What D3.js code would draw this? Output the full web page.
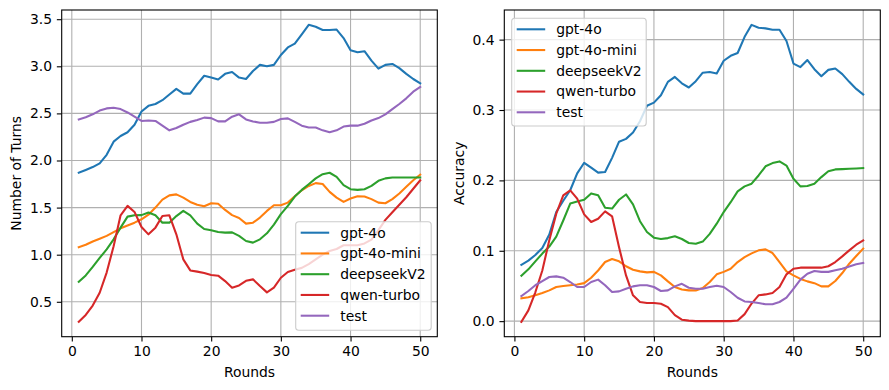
<!DOCTYPE html>
<html>
<head>
<meta charset="utf-8" />
<script src="https://d3js.org/d3.v7.min.js"></script>
<style>
	body { margin: 0; background: white; }
	svg { display: block; font-family: "DejaVu Sans", sans-serif; }
</style>
</head>
<body>
<svg id="chart" width="889" height="390"></svg>
<script>
	var rounds = d3.range(1, 51)
	var seriesNames = ["gpt-4o", "gpt-4o-mini", "deepseekV2", "qwen-turbo", "test"]
	var colors = ["#1f77b4", "#ff7f0e", "#2ca02c", "#d62728", "#9467bd"]

	// left panel: number of turns
	var turnsGpt4o = [1.87, 1.90, 1.93, 1.97, 2.06, 2.20, 2.26, 2.30, 2.38, 2.52,
		2.58, 2.60, 2.64, 2.70, 2.76, 2.71, 2.71, 2.81, 2.90, 2.88,
		2.86, 2.92, 2.94, 2.88, 2.865, 2.95, 3.015, 3.0, 3.015, 3.12,
		3.20, 3.24, 3.34, 3.44, 3.42, 3.386, 3.386, 3.39, 3.30, 3.17,
		3.15, 3.16, 3.06, 2.975, 3.015, 3.025, 2.98, 2.92, 2.865, 2.82]
	var turnsMini = [1.08, 1.105, 1.14, 1.17, 1.20, 1.24, 1.28, 1.31, 1.34, 1.376,
		1.425, 1.50, 1.585, 1.63, 1.64, 1.606, 1.56, 1.53, 1.514, 1.546,
		1.54, 1.475, 1.42, 1.39, 1.33, 1.34, 1.394, 1.465, 1.525, 1.525,
		1.553, 1.62, 1.684, 1.73, 1.76, 1.75, 1.667, 1.606, 1.56, 1.596,
		1.62, 1.617, 1.59, 1.553, 1.546, 1.59, 1.65, 1.72, 1.79, 1.85]
	var turnsDeepseek = [0.713, 0.78, 0.87, 0.965, 1.057, 1.163, 1.287, 1.404, 1.418, 1.42,
		1.447, 1.418, 1.34, 1.34, 1.41, 1.465, 1.418, 1.33, 1.273, 1.26,
		1.24, 1.234, 1.237, 1.20, 1.145, 1.128, 1.163, 1.227, 1.32, 1.43,
		1.518, 1.617, 1.688, 1.748, 1.81, 1.855, 1.87, 1.826, 1.738, 1.695,
		1.688, 1.695, 1.73, 1.784, 1.81, 1.82, 1.82, 1.82, 1.82, 1.82]
	var turnsQwen = [0.287, 0.36, 0.46, 0.596, 0.81, 1.09, 1.418, 1.518, 1.454, 1.294,
		1.216, 1.287, 1.41, 1.418, 1.216, 0.95, 0.833, 0.82, 0.805, 0.784,
		0.777, 0.72, 0.65, 0.674, 0.723, 0.738, 0.667, 0.60, 0.65, 0.755,
		0.816, 0.84, 0.86, 0.90, 0.95, 1.0, 1.04, 1.06, 1.10, 1.10,
		1.10, 1.12, 1.16, 1.26, 1.37, 1.45, 1.53, 1.61, 1.70, 1.79]
	var turnsTest = [2.436, 2.46, 2.49, 2.53, 2.553, 2.56, 2.546, 2.51, 2.465, 2.42,
		2.425, 2.42, 2.37, 2.32, 2.345, 2.38, 2.41, 2.43, 2.455, 2.45,
		2.415, 2.415, 2.465, 2.49, 2.436, 2.415, 2.40, 2.40, 2.41, 2.44,
		2.447, 2.41, 2.37, 2.35, 2.35, 2.32, 2.30, 2.32, 2.36, 2.37,
		2.37, 2.39, 2.425, 2.45, 2.49, 2.546, 2.60, 2.66, 2.73, 2.78]

	// right panel: accuracy
	var accGpt4o = [0.080, 0.086, 0.094, 0.104, 0.123, 0.155, 0.171, 0.186, 0.21, 0.225,
		0.218, 0.211, 0.212, 0.232, 0.255, 0.259, 0.268, 0.284, 0.306, 0.3105,
		0.321, 0.34, 0.347, 0.338, 0.332, 0.341, 0.353, 0.354, 0.352, 0.37,
		0.377, 0.381, 0.404, 0.421, 0.417, 0.416, 0.414, 0.414, 0.398, 0.366,
		0.361, 0.371, 0.358, 0.348, 0.357, 0.359, 0.351, 0.34, 0.33, 0.322]
	var accMini = [0.0324, 0.034, 0.0367, 0.04, 0.0437, 0.0485, 0.05, 0.051, 0.052, 0.054,
		0.0617, 0.072, 0.084, 0.0883, 0.085, 0.078, 0.073, 0.0707, 0.0693, 0.07,
		0.065, 0.0565, 0.0485, 0.045, 0.0437, 0.0437, 0.047, 0.0556, 0.0665, 0.07,
		0.0745, 0.084, 0.091, 0.0963, 0.1006, 0.102, 0.0968, 0.084, 0.0707, 0.065,
		0.060, 0.0565, 0.054, 0.0494, 0.0494, 0.057, 0.0684, 0.0816, 0.0925, 0.103]
	var accDeepseek = [0.0646, 0.0736, 0.085, 0.096, 0.106, 0.12, 0.143, 0.167, 0.17, 0.1725,
		0.1815, 0.179, 0.161, 0.160, 0.1725, 0.180, 0.166, 0.142, 0.1266, 0.1186,
		0.1167, 0.118, 0.1205, 0.1167, 0.111, 0.110, 0.113, 0.124, 0.1385, 0.155,
		0.169, 0.1844, 0.1915, 0.1953, 0.207, 0.22, 0.2246, 0.227, 0.221, 0.2024,
		0.1915, 0.192, 0.1953, 0.2047, 0.213, 0.2156, 0.216, 0.2166, 0.217, 0.2175]
	var accQwen = [-0.001, 0.0153, 0.041, 0.072, 0.115, 0.1527, 0.1787, 0.1858, 0.174, 0.1517,
		0.1408, 0.1455, 0.156, 0.149, 0.105, 0.065, 0.0367, 0.0272, 0.0258, 0.0258,
		0.0248, 0.020, 0.0085, 0.002, 0.0007, 0, 0, 0, 0, 0,
		0, 0.001, 0.01, 0.025, 0.0367, 0.038, 0.04, 0.0485, 0.0665, 0.0745,
		0.076, 0.076, 0.076, 0.076, 0.078, 0.084, 0.092, 0.1006, 0.1086, 0.1148]
	var accTest = [0.0357, 0.0428, 0.051, 0.057, 0.0627, 0.0636, 0.0617, 0.0556, 0.0485, 0.0485,
		0.0556, 0.059, 0.051, 0.0414, 0.0423, 0.046, 0.0494, 0.051, 0.051, 0.0485,
		0.0428, 0.0437, 0.0494, 0.053, 0.0475, 0.046, 0.046, 0.0485, 0.0504, 0.0485,
		0.0414, 0.0333, 0.028, 0.0272, 0.0258, 0.024, 0.024, 0.0272, 0.0333, 0.046,
		0.059, 0.0674, 0.0712, 0.07, 0.07, 0.0722, 0.0745, 0.0778, 0.0807, 0.0826]

	var turnsTicks = [0.5, 1.0, 1.5, 2.0, 2.5, 3.0, 3.5]
	var accTicks = [0.0, 0.1, 0.2, 0.3, 0.4]
	var roundTicks = [0, 10, 20, 30, 40, 50]

	var svg = d3.select("#chart")
	var fontSize = 13.9

	// matplotlib style 5% margins around the data
	function padded(ext) {
		var m = (ext[1] - ext[0]) * 0.05
		return [ext[0] - m, ext[1] + m]
	}

	function panel(opts) {
		var box = opts.box
		var all = [].concat.apply([], opts.series)
		var x = d3.scaleLinear().domain(padded(d3.extent(rounds))).range([box.left, box.right])
		var y = d3.scaleLinear().domain(padded(d3.extent(all))).range([box.bottom, box.top])

		var g = svg.append("g")

		// grid
		g.append("g").selectAll("line").data(roundTicks).enter().append("line")
			.attr("x1", d => x(d)).attr("x2", d => x(d))
			.attr("y1", box.top).attr("y2", box.bottom)
			.attr("stroke", "#b0b0b0").attr("stroke-width", 1.1)
		g.append("g").selectAll("line").data(opts.yTicks).enter().append("line")
			.attr("y1", d => y(d)).attr("y2", d => y(d))
			.attr("x1", box.left).attr("x2", box.right)
			.attr("stroke", "#b0b0b0").attr("stroke-width", 1.1)

		// lines
		var line = d3.line().x((d, i) => x(rounds[i])).y(d => y(d))
		opts.series.forEach(function (s, i) {
			g.append("path").attr("d", line(s))
				.attr("fill", "none").attr("stroke", colors[i])
				.attr("stroke-width", 2.08).attr("stroke-linejoin", "round")
				.attr("stroke-linecap", "square")
		})

		// axes
		var xAxis = g.append("g").attr("transform", `translate(0,${box.bottom})`)
			.call(d3.axisBottom(x).tickValues(roundTicks).tickFormat(d3.format("d")).tickSize(4.86).tickPadding(4.86))
		var yAxis = g.append("g").attr("transform", `translate(${box.left},0)`)
			.call(d3.axisLeft(y).tickValues(opts.yTicks).tickFormat(d3.format(opts.fmt)).tickSize(4.86).tickPadding(4.86))
		;[xAxis, yAxis].forEach(function (a) {
			a.select(".domain").remove()
			a.selectAll("line").attr("stroke", "#000").attr("stroke-width", 1.1)
			a.selectAll("text").attr("font-family", "DejaVu Sans").attr("font-size", fontSize).attr("fill", "#000")
		})

		g.append("rect")
			.attr("x", box.left).attr("y", box.top)
			.attr("width", box.right - box.left).attr("height", box.bottom - box.top)
			.attr("fill", "none").attr("stroke", "#000").attr("stroke-width", 1.1)

		g.append("text")
			.attr("x", (box.left + box.right) / 2).attr("y", 377)
			.attr("text-anchor", "middle").attr("font-size", fontSize)
			.text("Rounds")
		g.append("text")
			.attr("transform", `translate(${opts.ylabelX},${(box.top + box.bottom) / 2}) rotate(-90)`)
			.attr("text-anchor", "middle").attr("font-size", fontSize)
			.text(opts.ylabel)

		// legend
		var lg = opts.legend
		var legend = g.append("g").attr("transform", `translate(${lg.x},${lg.y})`)
		legend.append("rect")
			.attr("width", lg.w).attr("height", lg.h).attr("rx", 3)
			.attr("fill", "white").attr("fill-opacity", 0.8)
			.attr("stroke", "#cccccc").attr("stroke-width", 1.1)
		var rows = legend.selectAll(".row").data(seriesNames).enter().append("g")
			.attr("transform", (d, i) => `translate(0,${11 + i * 20.75})`)
		rows.append("line")
			.attr("x1", 5).attr("x2", 33.5)
			.attr("stroke", (d, i) => colors[i]).attr("stroke-width", 2.08)
		rows.append("text")
			.attr("x", 44.5).attr("dy", "0.35em")
			.attr("font-size", fontSize)
			.text(d => d)
	}

	panel({
		box: { left: 61.7, right: 437.3, top: 10, bottom: 336.7 },
		series: [turnsGpt4o, turnsMini, turnsDeepseek, turnsQwen, turnsTest],
		yTicks: turnsTicks, fmt: ".1f",
		ylabel: "Number of Turns", ylabelX: 21,
		legend: { x: 295.7, y: 221.7, w: 135.5, h: 108.5 }
	})

	panel({
		box: { left: 504.3, right: 880.3, top: 10, bottom: 336.7 },
		series: [accGpt4o, accMini, accDeepseek, accQwen, accTest],
		yTicks: accTicks, fmt: ".1f",
		ylabel: "Accuracy", ylabelX: 464,
		legend: { x: 511.7, y: 18.3, w: 134.5, h: 107.7 }
	})
</script>
</body>
</html>
